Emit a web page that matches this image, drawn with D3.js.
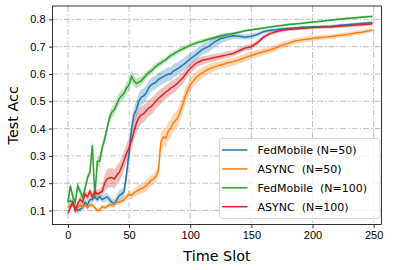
<!DOCTYPE html>
<html>
<head>
<meta charset="utf-8">
<script src="https://cdn.jsdelivr.net/npm/d3@7"></script>
<style>
  body { margin: 0; background: #fff; }
  svg { display: block; font-family: "DejaVu Sans", sans-serif; }
  .grid line { stroke: #b0b0b0; stroke-width: 0.8; stroke-dasharray: 6,2,1.5,2; }
  .axis text { font-size: 11px; fill: #000; }
  .axis path, .axis line { stroke: #000; stroke-width: 0.8; }
</style>
</head>
<body>
<div id="chart"></div>
<script>
// time slots (shared x values)
var slots = [0,2,4,6,8,10,12,14,16,18,20,22,24,26,28,30,32,34,36,38,40,42,44,46,48,50,
  52,54,56,58,60,62,64,66,68,70,72,74,76,78,80,82,84,86,88,90,92,94,96,98,100,
  105,110,115,120,125,130,135,140,145,150,155,160,165,170,175,180,185,190,195,200,
  205,210,215,220,225,230,235,240,245,249];

// FedMobile (N=50)
var fedMobile50 = [0.135,0.135,0.13,0.11,0.10,0.105,0.11,0.13,0.12,0.14,0.14,0.15,0.14,0.15,0.14,0.145,
  0.15,0.14,0.13,0.125,0.14,0.155,0.16,0.17,0.235,0.31,0.40,0.45,0.47,0.50,0.515,0.52,0.53,0.55,0.56,
  0.565,0.57,0.58,0.585,0.59,0.595,0.60,0.60,0.61,0.615,0.62,0.627,0.633,0.64,0.648,0.655,
  0.672,0.69,0.70,0.718,0.73,0.735,0.74,0.738,0.735,0.738,0.745,0.755,0.76,0.762,0.765,0.767,0.768,
  0.77,0.771,0.772,0.773,0.774,0.775,0.777,0.779,0.781,0.783,0.785,0.787,0.788];
var fedMobile50Spread = [0.012,0.012,0.012,0.012,0.012,0.012,0.012,0.012,0.012,0.012,0.012,0.012,0.012,0.012,0.012,0.015,
  0.015,0.015,0.015,0.015,0.018,0.02,0.02,0.02,0.03,0.03,0.03,0.03,0.03,0.03,0.028,0.028,0.028,0.026,0.026,
  0.025,0.025,0.025,0.025,0.025,0.025,0.025,0.025,0.025,0.025,0.024,0.024,0.023,0.022,0.022,0.022,
  0.02,0.02,0.02,0.02,0.018,0.014,0.012,0.01,0.01,0.01,0.008,0.007,0.006,0.006,0.006,0.005,0.005,
  0.005,0.005,0.005,0.005,0.005,0.005,0.005,0.005,0.005,0.005,0.005,0.005,0.005];

// ASYNC (N=50)
var async50 = [0.11,0.12,0.12,0.10,0.11,0.12,0.11,0.12,0.11,0.12,0.12,0.11,0.10,0.10,0.115,0.11,
  0.115,0.12,0.12,0.125,0.13,0.13,0.135,0.14,0.15,0.16,0.155,0.165,0.17,0.175,0.18,0.185,0.19,0.20,0.21,
  0.215,0.225,0.245,0.35,0.37,0.365,0.39,0.40,0.42,0.43,0.44,0.465,0.49,0.52,0.54,0.56,
  0.588,0.605,0.618,0.626,0.633,0.64,0.645,0.652,0.66,0.668,0.675,0.682,0.688,0.695,0.705,0.712,0.72,
  0.724,0.727,0.73,0.733,0.735,0.737,0.74,0.743,0.746,0.75,0.753,0.757,0.76];
var async50Spread = [0.008,0.008,0.008,0.008,0.008,0.008,0.008,0.008,0.008,0.008,0.008,0.008,0.008,0.008,0.008,0.008,
  0.008,0.01,0.01,0.01,0.01,0.01,0.01,0.012,0.012,0.014,0.014,0.016,0.016,0.018,0.018,0.02,0.02,0.02,0.02,
  0.02,0.022,0.025,0.035,0.035,0.035,0.035,0.035,0.032,0.032,0.032,0.03,0.03,0.03,0.028,0.026,
  0.022,0.02,0.018,0.016,0.015,0.015,0.015,0.015,0.014,0.014,0.014,0.013,0.013,0.012,0.012,0.012,0.011,
  0.01,0.01,0.01,0.009,0.009,0.008,0.008,0.008,0.008,0.008,0.008,0.008,0.008];

// FedMobile (N=100)
var fedMobile100 = [0.13,0.19,0.15,0.13,0.19,0.17,0.15,0.18,0.22,0.24,0.34,0.15,0.28,0.28,0.33,0.36,
  0.40,0.44,0.46,0.47,0.49,0.51,0.52,0.53,0.55,0.56,0.59,0.575,0.565,0.57,0.575,0.585,0.595,0.605,0.61,
  0.62,0.628,0.635,0.64,0.647,0.652,0.66,0.668,0.672,0.678,0.683,0.688,0.692,0.697,0.70,0.705,
  0.714,0.72,0.727,0.733,0.738,0.744,0.748,0.753,0.758,0.762,0.765,0.768,0.772,0.775,0.778,0.781,0.783,
  0.785,0.788,0.79,0.792,0.795,0.797,0.80,0.802,0.804,0.806,0.808,0.81,0.811];
var fedMobile100Spread = [0.012,0.015,0.015,0.015,0.015,0.015,0.015,0.015,0.015,0.015,0.02,0.02,0.02,0.02,0.02,0.02,
  0.02,0.02,0.02,0.02,0.02,0.02,0.02,0.02,0.02,0.02,0.022,0.02,0.018,0.016,0.015,0.014,0.013,0.012,0.012,
  0.012,0.012,0.011,0.011,0.011,0.01,0.01,0.01,0.01,0.01,0.01,0.009,0.009,0.009,0.009,0.008,
  0.008,0.008,0.007,0.007,0.006,0.006,0.005,0.005,0.005,0.005,0.004,0.004,0.004,0.004,0.004,0.004,0.004,
  0.004,0.004,0.004,0.004,0.004,0.004,0.004,0.004,0.004,0.004,0.004,0.004,0.004];

// ASYNC (N=100)
var async100 = [0.09,0.11,0.13,0.10,0.125,0.14,0.13,0.16,0.15,0.17,0.15,0.17,0.16,0.165,0.17,0.20,
  0.215,0.22,0.22,0.215,0.23,0.24,0.26,0.285,0.31,0.33,0.355,0.39,0.42,0.44,0.45,0.455,0.465,0.475,0.48,
  0.49,0.50,0.51,0.518,0.525,0.535,0.54,0.548,0.553,0.56,0.568,0.577,0.585,0.598,0.61,0.62,
  0.64,0.65,0.655,0.66,0.665,0.67,0.675,0.685,0.695,0.70,0.715,0.735,0.748,0.755,0.76,0.763,0.765,
  0.767,0.768,0.77,0.771,0.772,0.772,0.774,0.776,0.777,0.779,0.78,0.782,0.784];
var async100Spread = [0.01,0.012,0.012,0.012,0.012,0.015,0.015,0.015,0.015,0.015,0.015,0.015,0.015,0.015,0.02,0.03,
  0.035,0.035,0.035,0.035,0.035,0.035,0.035,0.035,0.035,0.035,0.035,0.035,0.035,0.033,0.032,0.032,0.03,0.03,0.03,
  0.03,0.028,0.028,0.028,0.026,0.026,0.025,0.025,0.024,0.024,0.022,0.022,0.02,0.02,0.02,0.018,
  0.016,0.015,0.014,0.013,0.012,0.012,0.011,0.01,0.01,0.01,0.009,0.008,0.008,0.007,0.007,0.006,0.006,
  0.006,0.006,0.006,0.006,0.006,0.006,0.006,0.006,0.006,0.006,0.006,0.006,0.006];

var seriesNames = ["FedMobile (N=50)", "ASYNC  (N=50)", "FedMobile  (N=100)", "ASYNC  (N=100)"];
var seriesColors = ["#1f77b4", "#ff7f0e", "#2ca02c", "#d62728"];
var xTicks = [0, 50, 100, 150, 200, 250];
var yTicks = [0.1, 0.2, 0.3, 0.4, 0.5, 0.6, 0.7, 0.8];

var seriesValues = [fedMobile50, async50, fedMobile100, async100];
var seriesSpread = [fedMobile50Spread, async50Spread, fedMobile100Spread, async100Spread];

var width = 394, height = 270;
var plot = {left: 52.5, right: 381.5, top: 6, bottom: 224.5};

var svg = d3.select("#chart").append("svg")
    .attr("width", width)
    .attr("height", height);

var xScale = d3.scaleLinear()
    .domain([-12.6, 256.4])
    .range([plot.left, plot.right]);

var yScale = d3.scaleLinear()
    .domain([0.0487, 0.849])
    .range([plot.bottom, plot.top]);

// dash-dot grid
var grid = svg.append("g").attr("class", "grid");
grid.selectAll(".gx").data(xTicks).enter().append("line")
    .attr("x1", function(d) { return xScale(d); })
    .attr("x2", function(d) { return xScale(d); })
    .attr("y1", plot.top).attr("y2", plot.bottom);
grid.selectAll(".gy").data(yTicks).enter().append("line")
    .attr("y1", function(d) { return yScale(d); })
    .attr("y2", function(d) { return yScale(d); })
    .attr("x1", plot.left).attr("x2", plot.right);

var area = d3.area()
    .x(function(d) { return xScale(d.x); })
    .y0(function(d) { return yScale(d.y - d.s); })
    .y1(function(d) { return yScale(d.y + d.s); });

var line = d3.line()
    .x(function(d) { return xScale(d.x); })
    .y(function(d) { return yScale(d.y); });

var data = seriesValues.map(function(vals, k) {
  return vals.map(function(v, i) { return {x: slots[i], y: v, s: seriesSpread[k][i]}; });
});

// bands first, then lines on top
data.forEach(function(d, k) {
  svg.append("path")
      .datum(d)
      .attr("d", area)
      .attr("fill", seriesColors[k])
      .attr("fill-opacity", 0.3);
});
data.forEach(function(d, k) {
  svg.append("path")
      .datum(d)
      .attr("d", line)
      .attr("fill", "none")
      .attr("stroke", seriesColors[k])
      .attr("stroke-width", 1.5);
});

// axes
svg.append("g")
    .attr("class", "axis")
    .attr("transform", "translate(0," + plot.bottom + ")")
    .call(d3.axisBottom(xScale).tickValues(xTicks).tickSize(3.5).tickPadding(3.5).tickSizeOuter(0))
    .select(".domain").remove();

svg.append("g")
    .attr("class", "axis")
    .attr("transform", "translate(" + plot.left + ",0)")
    .call(d3.axisLeft(yScale).tickValues(yTicks).tickFormat(d3.format(".1f")).tickSize(3.5).tickPadding(3.5).tickSizeOuter(0))
    .select(".domain").remove();

// frame
svg.append("rect")
    .attr("x", plot.left).attr("y", plot.top)
    .attr("width", plot.right - plot.left).attr("height", plot.bottom - plot.top)
    .attr("fill", "none").attr("stroke", "#000").attr("stroke-width", 0.8);

// axis labels
svg.append("text")
    .attr("x", (plot.left + plot.right) / 2)
    .attr("y", 261)
    .attr("text-anchor", "middle")
    .style("font-size", "14.4px")
    .text("Time Slot");

svg.append("text")
    .attr("transform", "translate(18," + ((plot.top + plot.bottom) / 2) + ") rotate(-90)")
    .attr("text-anchor", "middle")
    .style("font-size", "14.4px")
    .text("Test Acc");

// legend
var legend = svg.append("g").attr("transform", "translate(219.5,138.5)");
legend.append("rect")
    .attr("width", 160.5).attr("height", 80)
    .attr("rx", 2.5)
    .attr("fill", "#fff").attr("fill-opacity", 0.8)
    .attr("stroke", "#cccccc").attr("stroke-width", 0.8);

var rows = legend.selectAll(".row").data(seriesNames).enter().append("g")
    .attr("transform", function(d, i) { return "translate(0," + (11.5 + i * 18.9) + ")"; });
rows.append("line")
    .attr("x1", 2.5).attr("x2", 28)
    .attr("stroke", function(d, i) { return seriesColors[i]; })
    .attr("stroke-width", 1.5);
rows.append("text")
    .attr("x", 38)
    .attr("dy", "0.35em")
    .style("font-size", "11px")
    .style("white-space", "pre")
    .attr("xml:space", "preserve")
    .text(function(d) { return d; });
</script>
</body>
</html>
